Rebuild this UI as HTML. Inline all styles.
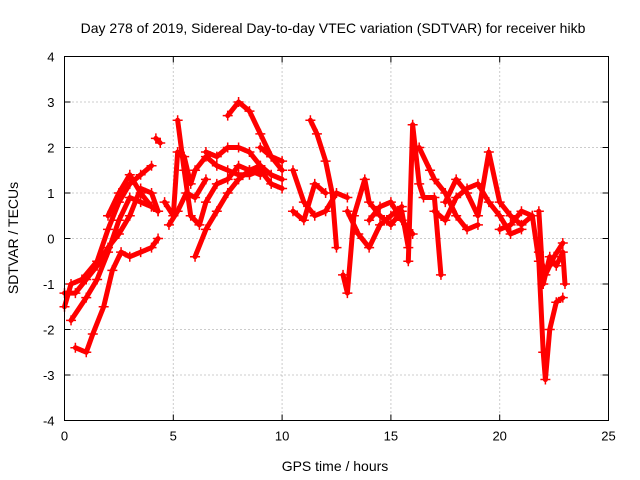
<!DOCTYPE html>
<html><head><meta charset="utf-8"><style>
body{margin:0;background:#fff;}
svg{display:block;font-family:"Liberation Sans",sans-serif;}
</style></head><body>
<svg id="chart" width="640" height="480">
<text x="333" y="33" font-size="14" text-anchor="middle">Day 278 of 2019, Sidereal Day-to-day VTEC variation (SDTVAR) for receiver hikb</text>
<text x="335" y="471" font-size="14" text-anchor="middle">GPS time / hours</text>
<text x="18" y="238" font-size="14" text-anchor="middle" transform="rotate(-90 18 238)">SDTVAR / TECUs</text>
<g id="grid"></g><g id="marks"></g>
<rect x="64.5" y="56.5" width="544" height="364" fill="none" stroke="#000"/>
</svg>
<script>
const xTicks=[0,5,10,15,20,25];
const yTicks=[-4,-3,-2,-1,0,1,2,3,4];
const tracks=[
[[0,-1.5],[0.3,-1.0],[0.8,-0.9],[1.5,-0.5],[2,0.2],[2.5,0.8],[3,1.2],[3.5,1.4],[4,1.6]],
[[0.3,-1.8],[1,-1.3],[1.5,-0.9],[2,-0.3],[2.5,0.4],[3,0.9],[3.5,0.8],[4,0.7],[4.3,0.6]],
[[0.5,-2.4],[1,-2.5],[1.3,-2.1],[1.8,-1.5],[2.2,-0.7],[2.6,-0.3],[3,-0.4],[3.5,-0.3],[4,-0.2],[4.3,0]],
[[0,-1.2],[0.5,-1.2],[1,-0.9],[1.5,-0.6],[2,-0.2],[2.5,0.1],[3,0.5],[3.5,1.1],[4,1.0],[4.3,0.6]],
[[2,0.5],[2.5,1.0],[3,1.4],[3.5,1.0],[4,0.7]],
[[4.2,2.2],[4.4,2.1]],
[[4.6,0.8],[5,0.5],[5.2,1.9],[5.5,1.8],[5.8,1.2],[6,1.5],[6.5,1.8],[7,1.6],[7.5,1.5],[8,1.4],[8.5,1.4],[9,1.5],[9.5,1.2],[10,1.1]],
[[5.2,2.6],[5.5,1.5],[5.8,0.5],[6.2,0.3],[6.5,0.8],[7,1.2],[7.5,1.3],[8,1.6],[8.5,1.5],[9,1.4]],
[[6,-0.4],[6.5,0.2],[7,0.6],[7.5,1.0],[8,1.3],[8.5,1.5],[9,1.6],[9.5,1.4],[10,1.3]],
[[7.5,2.7],[8,3.0],[8.5,2.8],[9,2.3],[9.5,1.8],[10,1.5]],
[[6.5,1.9],[7,1.8],[7.5,2.0],[8,2.0],[8.5,1.9],[9,1.6]],
[[4.8,0.3],[5.2,0.6],[5.6,1.0],[6,0.9],[6.5,1.3]],
[[9,2.0],[9.5,1.8],[10,1.7]],
[[10.5,1.5],[11,0.8],[11.5,0.5],[12,0.6],[12.5,1.0],[13,0.9]],
[[11.3,2.6],[11.6,2.3],[12,1.7],[12.3,1.0],[12.5,-0.2]],
[[10.5,0.6],[11,0.4],[11.5,1.2],[12,1.0]],
[[12.8,-0.8],[13,-1.2],[13.3,0.5],[13.8,1.3],[14,0.8],[14.5,0.5],[15,0.3],[15.5,0.6],[15.8,-0.2]],
[[13,0.6],[13.5,0.1],[14,-0.2],[14.5,0.3],[15,0.5],[15.5,0.7]],
[[14,0.4],[14.5,0.7],[15,0.8],[15.5,0.4],[16,0.1]],
[[15.8,-0.5],[16,2.5],[16.3,1.2],[16.5,0.9],[17,0.9],[17.3,-0.8]],
[[16.3,2.0],[16.8,1.5],[17,1.3],[17.5,1.0],[18,0.5],[18.5,0.2],[19,0.3]],
[[17,0.6],[17.5,0.4],[18,0.9],[18.5,1.1],[19,1.2],[19.5,0.8],[20,0.5],[20.5,0.1],[21,0.2]],
[[17.5,0.8],[18,1.3],[18.5,1.0],[19,0.5],[19.5,1.9],[20,0.8],[20.5,0.5],[21,0.3],[21.5,0.5]],
[[20,0.2],[20.5,0.3],[21,0.6],[21.5,0.5],[21.8,-0.5],[22,-2.5],[22.1,-3.1],[22.3,-2.0],[22.6,-1.4],[22.9,-1.3]],
[[21.8,0.6],[22,-1.0],[22.3,-0.4],[22.6,-0.6],[22.9,-0.3],[23,-1.0]],
[[21.8,-0.3],[22.1,-0.8],[22.5,-0.4],[22.9,-0.1]]
];
const X0=64.5,X1=608.5,Y0=420.5,Y1=56.5;
const sx=v=>X0+(v-0)/(25-0)*(X1-X0);
const sy=v=>Y0-(v+4)/8*(Y0-Y1);
const NS="http://www.w3.org/2000/svg";
const grid=document.getElementById('grid'),marks=document.getElementById('marks');
function mk(tag,attrs,parent){const e=document.createElementNS(NS,tag);for(const k in attrs)e.setAttribute(k,attrs[k]);parent.appendChild(e);return e;}
xTicks.forEach(t=>{
 const x=sx(t);
 if(t>0&&t<25){const g=mk('line',{x1:x,x2:x,y1:Y0,y2:Y1,stroke:'#999','stroke-dasharray':'1,3','stroke-width':1},grid);
 
 }
 const l=mk('text',{x:x,y:Y0+20,'font-size':13,'text-anchor':'middle'},grid);l.textContent=t;
 
 
 mk('line',{x1:x,x2:x,y1:Y0,y2:Y0-6,stroke:'#000'},grid);
 mk('line',{x1:x,x2:x,y1:Y1,y2:Y1+6,stroke:'#000'},grid);
});
yTicks.forEach(t=>{
 const y=sy(t);
 if(t>-4&&t<4){const g=mk('line',{x1:X0,x2:X1,y1:y,y2:y,stroke:'#999','stroke-dasharray':'1,3','stroke-width':1},grid);
 
 }
 const l=mk('text',{x:X0-10,y:y+5,'font-size':13,'text-anchor':'end'},grid);l.textContent=t;
 
 
 mk('line',{x1:X0,x2:X0+6,y1:y,y2:y,stroke:'#000'},grid);
 mk('line',{x1:X1,x2:X1-6,y1:y,y2:y,stroke:'#000'},grid);
});
tracks.forEach((tr,i)=>{
 const p=mk('polyline',{points:tr.map(d=>sx(d[0])+','+sy(d[1])).join(' '),fill:'none',stroke:'#f00','stroke-width':5,'stroke-linejoin':'round','stroke-linecap':'round'},marks);
 
 
 tr.forEach(d=>{
  const x=sx(d[0]),y=sy(d[1]);
  const c=mk('path',{d:`M${x-5},${y}H${x+5}M${x},${y-5}V${y+5}`,stroke:'#f00','stroke-width':1.5},marks);
  
  
 });
});
</script>
</body></html>
